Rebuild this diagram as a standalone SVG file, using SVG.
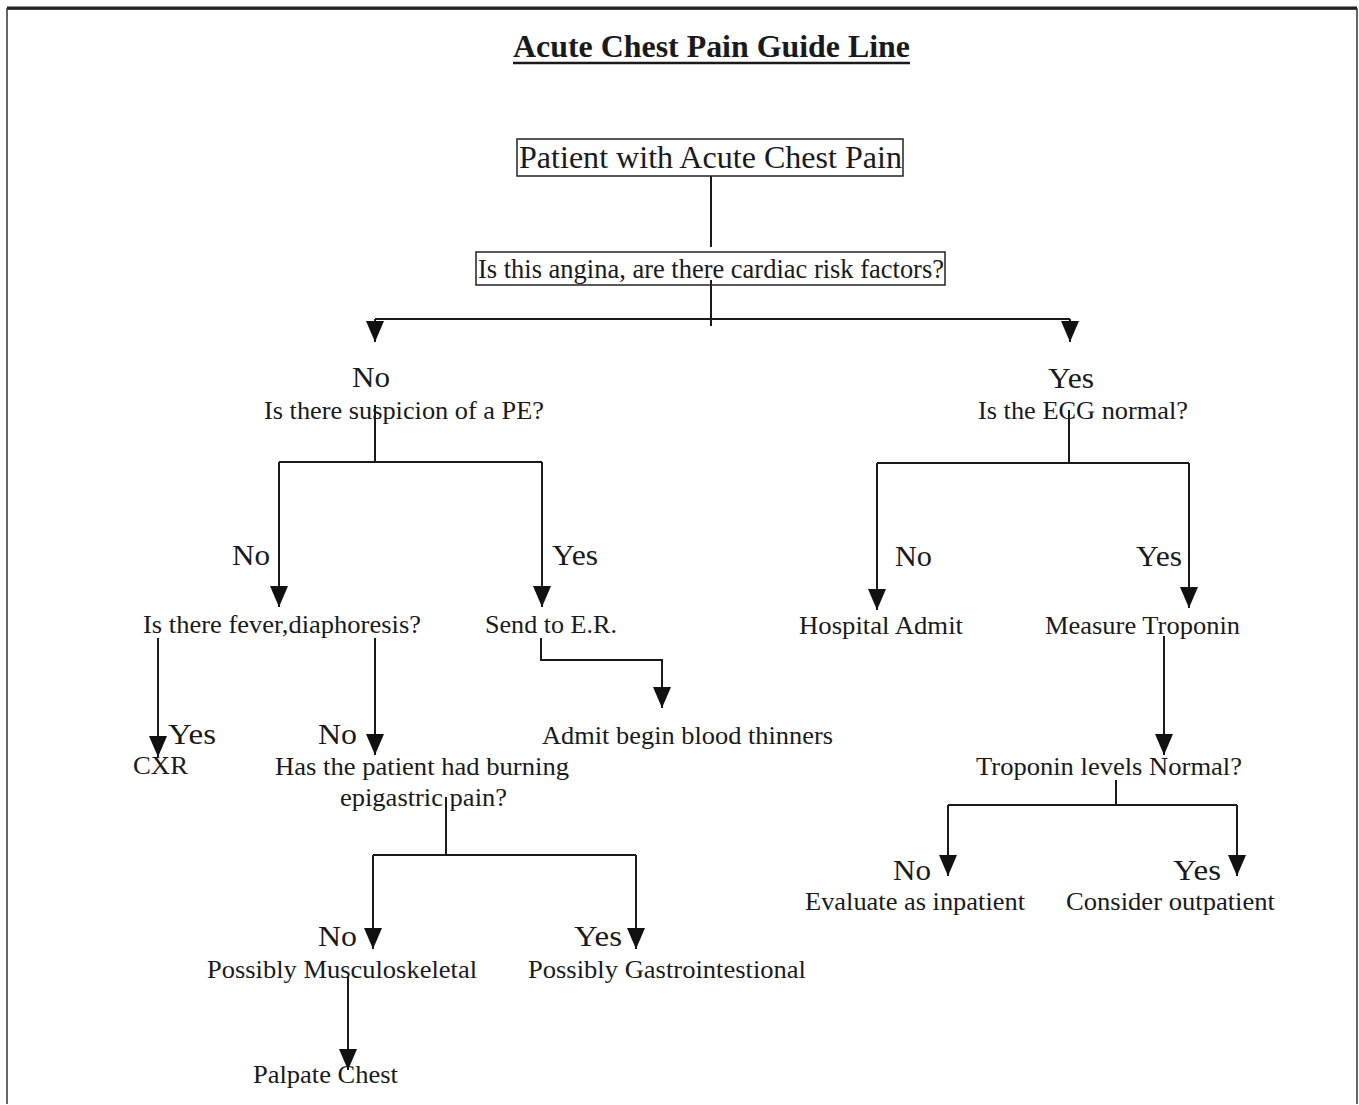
<svg xmlns="http://www.w3.org/2000/svg" width="1359" height="1105" viewBox="0 0 1359 1105">
<style>
text{font-family:"Liberation Serif","Times New Roman",serif;fill:#1a1a1a;lengthAdjust:spacingAndGlyphs}
.t{font-size:26px}
.l{font-size:30px}
.box{fill:none;stroke:#222;stroke-width:1.5}
.c{fill:none;stroke:#1a1a1a;stroke-width:2}
.a{marker-end:url(#ah)}
</style>
<defs>
<marker id="ah" markerUnits="userSpaceOnUse" markerWidth="22" markerHeight="18" refX="21" refY="9" orient="auto">
<path d="M0,0 L21,9 L0,18 z" fill="#111"/>
</marker>
</defs>
<rect x="0" y="0" width="1359" height="1105" fill="#fff"/>
<g id="frame">
<path d="M7,1104 V9 H1357 V1104" fill="none" stroke="#333" stroke-width="1.5"/>
<line x1="7" y1="8" x2="1357" y2="8" stroke="#222" stroke-width="3"/>
</g>
<g id="title">
<text x="513" y="57" font-size="32" font-weight="bold" textLength="397" lengthAdjust="spacingAndGlyphs">Acute Chest Pain Guide Line</text>
<line x1="513" y1="63" x2="910" y2="63" stroke="#1a1a1a" stroke-width="2.5"/>
</g>
<g id="connectors">
<path class="c" d="M711,176 V247"/>
<path class="c" d="M711,280 V326"/>
<path class="c" d="M375,319 H1070"/>
<path class="c a" d="M375,319 V342"/>
<path class="c a" d="M1070,319 V342"/>
<path class="c" d="M375,405 V462"/>
<path class="c" d="M279,462 H542"/>
<path class="c a" d="M279,462 V607"/>
<path class="c a" d="M542,462 V607"/>
<path class="c a" d="M158,638 V757"/>
<path class="c a" d="M375,638 V755"/>
<path class="c a" d="M541,638 V660 H662 V708"/>
<path class="c" d="M446,797 V855"/>
<path class="c" d="M373,855 H636"/>
<path class="c a" d="M373,855 V949"/>
<path class="c a" d="M636,855 V949"/>
<path class="c a" d="M348,976 V1070"/>
<path class="c" d="M1069,410 V463"/>
<path class="c" d="M877,463 H1189"/>
<path class="c a" d="M877,463 V610"/>
<path class="c a" d="M1189,463 V608"/>
<path class="c a" d="M1164,636 V755"/>
<path class="c" d="M1116,780 V805"/>
<path class="c" d="M948,805 H1237"/>
<path class="c a" d="M948,805 V876"/>
<path class="c a" d="M1237,805 V876"/>
</g>
<g id="n-start">
<rect class="box" x="517" y="139" width="386" height="37"/>
<text x="519" y="168" font-size="32" textLength="383" lengthAdjust="spacingAndGlyphs">Patient with Acute Chest Pain</text>
</g>
<g id="n-angina">
<rect class="box" x="476" y="252" width="469" height="33"/>
<text x="478" y="278" font-size="27" textLength="466" lengthAdjust="spacingAndGlyphs">Is this angina, are there cardiac risk factors?</text>
</g>
<g id="n-pe">
<text class="l" x="352" y="387" textLength="38" lengthAdjust="spacingAndGlyphs">No</text>
<text class="t" x="264" y="419" textLength="280" lengthAdjust="spacingAndGlyphs">Is there suspicion of a PE?</text>
</g>
<g id="n-ecg">
<text class="l" x="1048" y="388" textLength="46" lengthAdjust="spacingAndGlyphs">Yes</text>
<text class="t" x="978" y="419" textLength="210" lengthAdjust="spacingAndGlyphs">Is the ECG normal?</text>
</g>
<g id="n-fever">
<text class="l" x="232" y="565" textLength="38" lengthAdjust="spacingAndGlyphs">No</text>
<text class="t" x="143" y="633" textLength="278" lengthAdjust="spacingAndGlyphs">Is there fever,diaphoresis?</text>
</g>
<g id="n-er">
<text class="l" x="552" y="565" textLength="46" lengthAdjust="spacingAndGlyphs">Yes</text>
<text class="t" x="485" y="633" textLength="132" lengthAdjust="spacingAndGlyphs">Send to E.R.</text>
</g>
<g id="n-admit">
<text class="l" x="895" y="566" textLength="37" lengthAdjust="spacingAndGlyphs">No</text>
<text class="t" x="799" y="634" textLength="164" lengthAdjust="spacingAndGlyphs">Hospital Admit</text>
</g>
<g id="n-troponin">
<text class="l" x="1136" y="566" textLength="46" lengthAdjust="spacingAndGlyphs">Yes</text>
<text class="t" x="1045" y="634" textLength="195" lengthAdjust="spacingAndGlyphs">Measure Troponin</text>
</g>
<g id="n-cxr">
<text class="l" x="168" y="744" textLength="48" lengthAdjust="spacingAndGlyphs">Yes</text>
<text class="t" x="133" y="774" textLength="55" lengthAdjust="spacingAndGlyphs">CXR</text>
</g>
<g id="n-burning">
<text class="l" x="318" y="744" textLength="39" lengthAdjust="spacingAndGlyphs">No</text>
<text class="t" x="275" y="775" textLength="294" lengthAdjust="spacingAndGlyphs">Has the patient had burning</text>
<text class="t" x="340" y="806" textLength="167" lengthAdjust="spacingAndGlyphs">epigastric pain?</text>
</g>
<g id="n-thinners">
<text class="t" x="542" y="744" textLength="291" lengthAdjust="spacingAndGlyphs">Admit begin blood thinners</text>
</g>
<g id="n-levels">
<text class="t" x="976" y="775" textLength="266" lengthAdjust="spacingAndGlyphs">Troponin levels Normal?</text>
</g>
<g id="n-inpatient">
<text class="l" x="893" y="880" textLength="38" lengthAdjust="spacingAndGlyphs">No</text>
<text class="t" x="805" y="910" textLength="220" lengthAdjust="spacingAndGlyphs">Evaluate as inpatient</text>
</g>
<g id="n-outpatient">
<text class="l" x="1173" y="880" textLength="48" lengthAdjust="spacingAndGlyphs">Yes</text>
<text class="t" x="1066" y="910" textLength="209" lengthAdjust="spacingAndGlyphs">Consider outpatient</text>
</g>
<g id="n-musculo">
<text class="l" x="318" y="946" textLength="39" lengthAdjust="spacingAndGlyphs">No</text>
<text class="t" x="207" y="978" textLength="270" lengthAdjust="spacingAndGlyphs">Possibly Musculoskeletal</text>
</g>
<g id="n-gastro">
<text class="l" x="574" y="946" textLength="48" lengthAdjust="spacingAndGlyphs">Yes</text>
<text class="t" x="528" y="978" textLength="278" lengthAdjust="spacingAndGlyphs">Possibly Gastrointestional</text>
</g>
<g id="n-palpate">
<text class="t" x="253" y="1083" textLength="145" lengthAdjust="spacingAndGlyphs">Palpate Chest</text>
</g>
</svg>
